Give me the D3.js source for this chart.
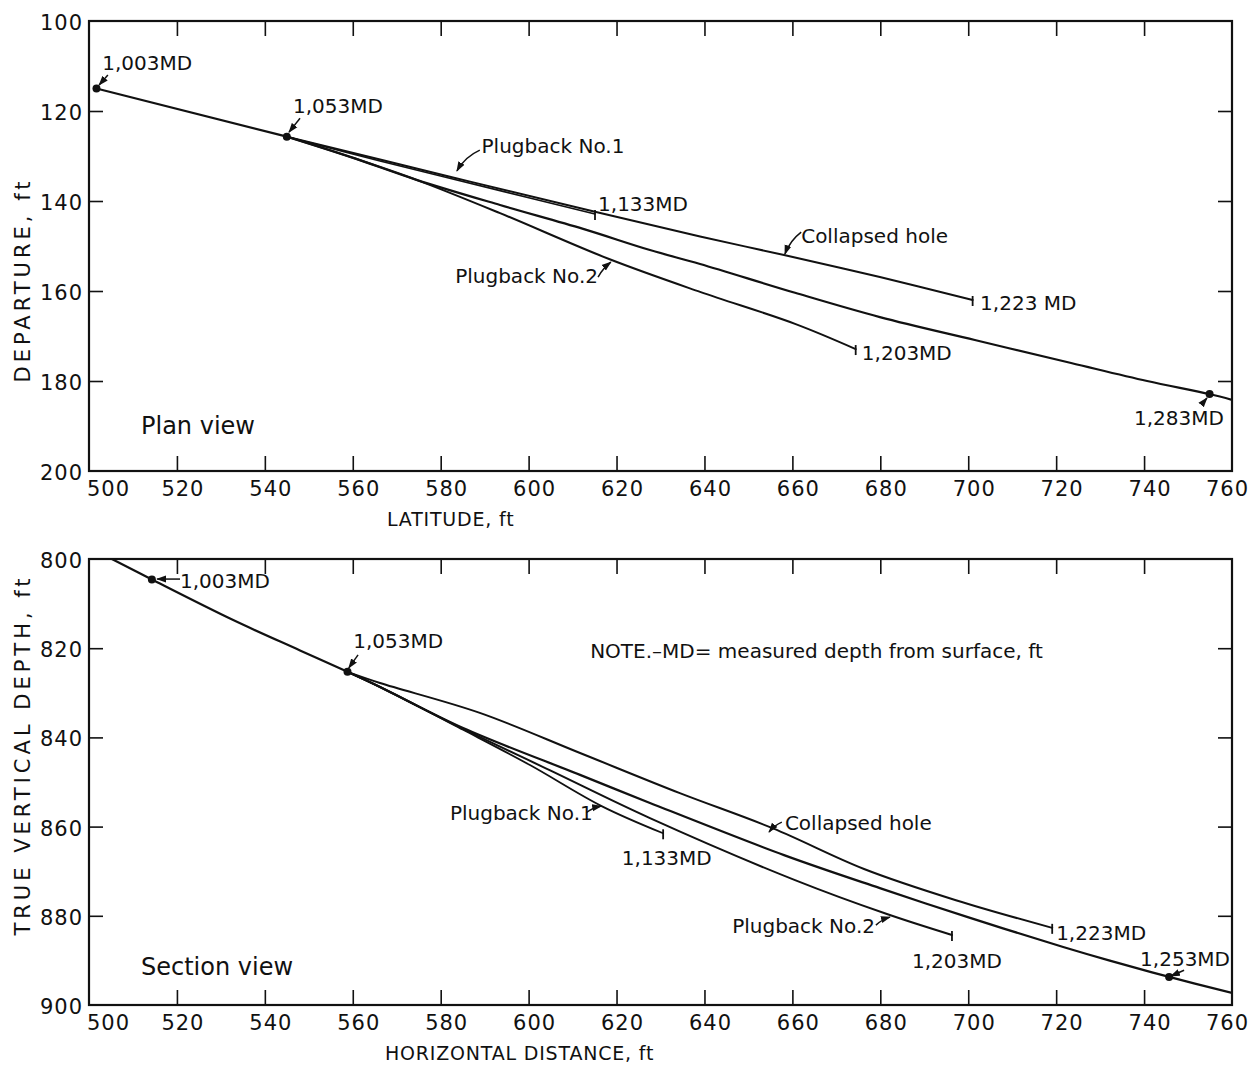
<!DOCTYPE html>
<html>
<head>
<meta charset="utf-8">
<script src="https://cdn.jsdelivr.net/npm/d3@7"></script>
<style>
  body { margin: 0; background: #fff; }
  svg text { font-family: "DejaVu Sans", sans-serif; fill: #111; }
</style>
</head>
<body>
<svg id="chart"></svg>
<script>
// ---- data: plan view (latitude, departure) ----
var latTicks = [500, 520, 540, 560, 580, 600, 620, 640, 660, 680, 700, 720, 740, 760];
var depTicks = [100, 120, 140, 160, 180, 200];
var tvdTicks = [800, 820, 840, 860, 880, 900];

var planTrunk = [[501.7, 115.0], [545.0, 125.7]];
var planCollapsed = [[545.0, 125.7], [582.1, 134.6], [615.1, 142.4], [639.0, 147.9], [658.1, 152.0], [679.9, 156.9], [701.0, 162.0]];
var planPlug1 = [[545.0, 125.7], [566.2, 131.1], [593.5, 137.7], [615.1, 142.9]];
var planMain = [[545.0, 125.7], [559.4, 130.2], [574.5, 135.3], [593.5, 140.9], [612.4, 146.2], [627.6, 150.9], [639.0, 154.0], [660.6, 160.4], [679.9, 165.8], [701.5, 170.9], [723.4, 176.0], [740.7, 180.0], [754.9, 182.9], [760.0, 184.2]];
var planPlug2 = [[545.0, 125.7], [559.4, 130.2], [574.5, 135.3], [593.5, 142.7], [618.3, 152.9], [639.0, 160.2], [660.6, 167.3], [674.4, 172.9]];
var planDots = [[501.7, 115.0], [545.0, 125.7], [754.9, 182.9]];
var planEnds = [[615.1, 142.9], [701.0, 162.0], [674.4, 172.9]];

var planLabels = [
  {text: "1,003MD", at: [503.0, 110.9]},
  {text: "1,053MD", at: [546.4, 120.4]},
  {text: "Plugback No.1", at: [589.3, 129.3]},
  {text: "1,133MD", at: [615.8, 142.2]},
  {text: "Collapsed hole", at: [662.0, 149.3]},
  {text: "Plugback No.2", at: [583.3, 158.2]},
  {text: "1,223 MD", at: [702.7, 164.2]},
  {text: "1,203MD", at: [675.8, 175.3]},
  {text: "1,283MD", at: [737.7, 189.8]}
];
var planArrows = [
  {from: [504.3, 112.0], to: [502.3, 114.2], bend: 0},
  {from: [548.0, 121.6], to: [545.5, 124.7], bend: 0},
  {from: [588.9, 128.7], to: [583.7, 133.3], bend: 5},
  {from: [662.0, 146.9], to: [658.3, 151.8], bend: 4},
  {from: [615.8, 156.9], to: [618.7, 153.6], bend: -2},
  {from: [753.0, 185.3], to: [754.3, 183.8], bend: 0}
];

// ---- data: section view (horizontal distance, true vertical depth) ----
var secTrunk = [[505.2, 800.0], [514.3, 804.6], [532.8, 813.7], [548.0, 820.5], [558.8, 825.3]];
var secCollapsed = [[558.8, 825.3], [566.2, 827.8], [588.9, 834.5], [611.7, 843.5], [634.4, 852.5], [655.6, 860.4], [676.3, 869.5], [697.2, 876.5], [719.1, 882.7]];
var secMain = [[558.8, 825.3], [566.2, 828.7], [585.1, 837.9], [611.7, 848.4], [627.6, 854.7], [658.1, 866.4], [679.9, 873.8], [699.9, 880.3], [721.6, 887.0], [732.0, 890.0], [745.7, 893.7], [760.0, 897.3]];
var secPlug2 = [[558.8, 825.3], [566.2, 828.7], [585.1, 838.1], [604.9, 847.4], [627.6, 858.1], [660.6, 872.0], [681.5, 879.6], [696.3, 884.3]];
var secPlug1 = [[558.8, 825.3], [566.2, 828.7], [585.1, 838.3], [600.3, 846.2], [616.6, 855.4], [630.6, 861.5]];
var secDots = [[514.3, 804.6], [558.8, 825.3], [745.7, 893.7]];
var secEnds = [[630.6, 861.5], [719.1, 882.7], [696.3, 884.3]];

var secLabels = [
  {text: "1,003MD", at: [520.7, 806.5]},
  {text: "1,053MD", at: [560.1, 820.0]},
  {text: "NOTE.\u2013MD= measured depth from surface, ft", at: [614.0, 822.2]},
  {text: "Plugback No.1", at: [582.1, 858.5]},
  {text: "1,133MD", at: [621.2, 868.6]},
  {text: "Collapsed hole", at: [658.3, 860.8]},
  {text: "1,223MD", at: [720.0, 885.4]},
  {text: "Plugback No.2", at: [646.3, 883.9]},
  {text: "1,203MD", at: [687.2, 891.7]},
  {text: "1,253MD", at: [739.1, 891.3]}
];
var secArrows = [
  {from: [520.7, 804.5], to: [515.5, 804.5], bend: 0},
  {from: [561.2, 821.5], to: [559.1, 824.4], bend: 0},
  {from: [613.1, 856.9], to: [616.5, 855.4], bend: -2},
  {from: [657.6, 859.0], to: [654.7, 861.2], bend: 2},
  {from: [679.0, 882.1], to: [682.2, 880.3], bend: -2},
  {from: [749.1, 892.2], to: [746.1, 893.5], bend: 0}
];

var W = 1254, H = 1068;
var svg = d3.select("#chart").attr("width", W).attr("height", H);

svg.append("defs").append("marker")
    .attr("id", "arr")
    .attr("markerUnits", "userSpaceOnUse")
    .attr("markerWidth", 10).attr("markerHeight", 8)
    .attr("refX", 9).attr("refY", 4)
    .attr("orient", "auto")
  .append("path")
    .attr("d", "M0,0.5 L10,4 L0,7.5 Z")
    .attr("fill", "#111");

function drawPanel(cfg) {
  var x = d3.scaleLinear().domain([500, 760]).range([89, 1232]);
  var y = d3.scaleLinear().domain(cfg.yDomain).range([cfg.top, cfg.bottom]);
  var g = svg.append("g");

  var line = d3.line()
    .x(function(d) { return x(d[0]); })
    .y(function(d) { return y(d[1]); })
    .curve(d3.curveCatmullRom.alpha(0.5));

  // ticks (inward) + labels
  var inner = latTicks.slice(1, -1);
  g.append("g").attr("transform", "translate(0," + cfg.bottom + ")")
    .call(d3.axisBottom(x).tickValues(inner).tickSize(-15).tickSizeOuter(0).tickFormat(""));
  g.append("g").attr("transform", "translate(0," + cfg.top + ")")
    .call(d3.axisTop(x).tickValues(inner).tickSize(-15).tickSizeOuter(0).tickFormat(""));
  var yInner = cfg.yTicks.slice(1, -1);
  g.append("g").attr("transform", "translate(89,0)")
    .call(d3.axisLeft(y).tickValues(yInner).tickSize(-14).tickSizeOuter(0).tickFormat(""));
  g.append("g").attr("transform", "translate(1232,0)")
    .call(d3.axisRight(y).tickValues(yInner).tickSize(-14).tickSizeOuter(0).tickFormat(""));
  g.selectAll(".domain").remove();
  g.selectAll(".tick line").attr("stroke", "#111").attr("stroke-width", 1.6);

  var last = latTicks.length - 1;
  g.selectAll(".xlab").data(latTicks).enter().append("text")
    .attr("x", function(d, i) { return i === 0 ? x(d) - 2 : i === last ? x(d) + 17 : x(d) + 6; })
    .attr("y", cfg.bottom + 25)
    .attr("text-anchor", function(d, i) { return i === 0 ? "start" : i === last ? "end" : "middle"; })
    .style("font-size", "21px").style("letter-spacing", "1px")
    .text(function(d) { return d; });
  g.selectAll(".ylab").data(cfg.yTicks).enter().append("text")
    .attr("x", 83)
    .attr("y", function(d) { return y(d) + 9; })
    .attr("text-anchor", "end")
    .style("font-size", "21px").style("letter-spacing", "1px")
    .text(function(d) { return d; });

  // frame
  g.append("rect")
    .attr("x", 89).attr("y", cfg.top)
    .attr("width", 1232 - 89).attr("height", cfg.bottom - cfg.top)
    .attr("fill", "none").attr("stroke", "#111").attr("stroke-width", 2.2);

  // well paths
  var clipId = "clip" + cfg.id;
  svg.append("clipPath").attr("id", clipId).append("rect")
    .attr("x", 89).attr("y", cfg.top).attr("width", 1232 - 89).attr("height", cfg.bottom - cfg.top);
  g.append("g").attr("clip-path", "url(#" + clipId + ")")
    .selectAll("path.well").data(cfg.paths).enter().append("path")
    .attr("class", "well")
    .attr("d", function(d) { return line(d.pts); })
    .attr("fill", "none").attr("stroke", "#111")
    .attr("stroke-width", function(d) { return d.w; })
    .attr("stroke-linejoin", "round").attr("stroke-linecap", "round");

  // end ticks
  g.selectAll(".endtick").data(cfg.ends).enter().append("line")
    .attr("x1", function(d) { return x(d[0]); }).attr("x2", function(d) { return x(d[0]); })
    .attr("y1", function(d) { return y(d[1]) - 4; }).attr("y2", function(d) { return y(d[1]) + 6; })
    .attr("stroke", "#111").attr("stroke-width", 1.8);

  // dots
  g.selectAll(".dot").data(cfg.dots).enter().append("circle")
    .attr("cx", function(d) { return x(d[0]); }).attr("cy", function(d) { return y(d[1]); })
    .attr("r", 4).attr("fill", "#111");

  // leaders with arrowheads
  g.selectAll(".leader").data(cfg.arrows).enter().append("path")
    .attr("d", function(d) {
      var x0 = x(d.from[0]), y0 = y(d.from[1]), x1 = x(d.to[0]), y1 = y(d.to[1]);
      var mx = (x0 + x1) / 2, my = (y0 + y1) / 2;
      var dx = x1 - x0, dy = y1 - y0, len = Math.sqrt(dx * dx + dy * dy) || 1;
      var p = d3.path();
      p.moveTo(x0, y0);
      p.quadraticCurveTo(mx - dy / len * d.bend, my + dx / len * d.bend, x1, y1);
      return p.toString();
    })
    .attr("fill", "none").attr("stroke", "#111").attr("stroke-width", 1.5)
    .attr("marker-end", "url(#arr)");

  // labels
  g.selectAll(".ann").data(cfg.labels).enter().append("text")
    .attr("x", function(d) { return x(d.at[0]); })
    .attr("y", function(d) { return y(d.at[1]); })
    .style("font-size", "20px")
    .text(function(d) { return d.text; });

  g.append("text")
    .attr("x", 141).attr("y", cfg.viewY)
    .style("font-size", "24px")
    .text(cfg.viewName);

  g.append("text")
    .attr("x", cfg.xTitleX).attr("y", cfg.bottom + 55)
    .style("font-size", "19px").style("letter-spacing", "0.8px")
    .text(cfg.xTitle);

  g.append("text")
    .attr("transform", "translate(30," + cfg.yTitleY + ") rotate(-90)")
    .attr("text-anchor", "middle")
    .style("font-size", "21px").style("letter-spacing", "4px")
    .text(cfg.yTitle);
}

drawPanel({
  id: "plan", top: 21, bottom: 471, yDomain: [100, 200], yTicks: depTicks,
  paths: [
    {pts: planTrunk, w: 2.2}, {pts: planCollapsed, w: 2}, {pts: planPlug1, w: 1.6},
    {pts: planMain, w: 2.2}, {pts: planPlug2, w: 2}
  ],
  dots: planDots, ends: planEnds, labels: planLabels, arrows: planArrows,
  viewName: "Plan view", viewY: 434,
  xTitle: "LATITUDE, ft", xTitleX: 387,
  yTitle: "DEPARTURE, ft", yTitleY: 280
});

drawPanel({
  id: "sec", top: 559, bottom: 1005, yDomain: [800, 900], yTicks: tvdTicks,
  paths: [
    {pts: secTrunk, w: 2.2}, {pts: secCollapsed, w: 2}, {pts: secMain, w: 2.2},
    {pts: secPlug2, w: 2}, {pts: secPlug1, w: 1.8}
  ],
  dots: secDots, ends: secEnds, labels: secLabels, arrows: secArrows,
  viewName: "Section view", viewY: 975,
  xTitle: "HORIZONTAL DISTANCE, ft", xTitleX: 385,
  yTitle: "TRUE VERTICAL DEPTH, ft", yTitleY: 755
});
</script>
</body>
</html>
